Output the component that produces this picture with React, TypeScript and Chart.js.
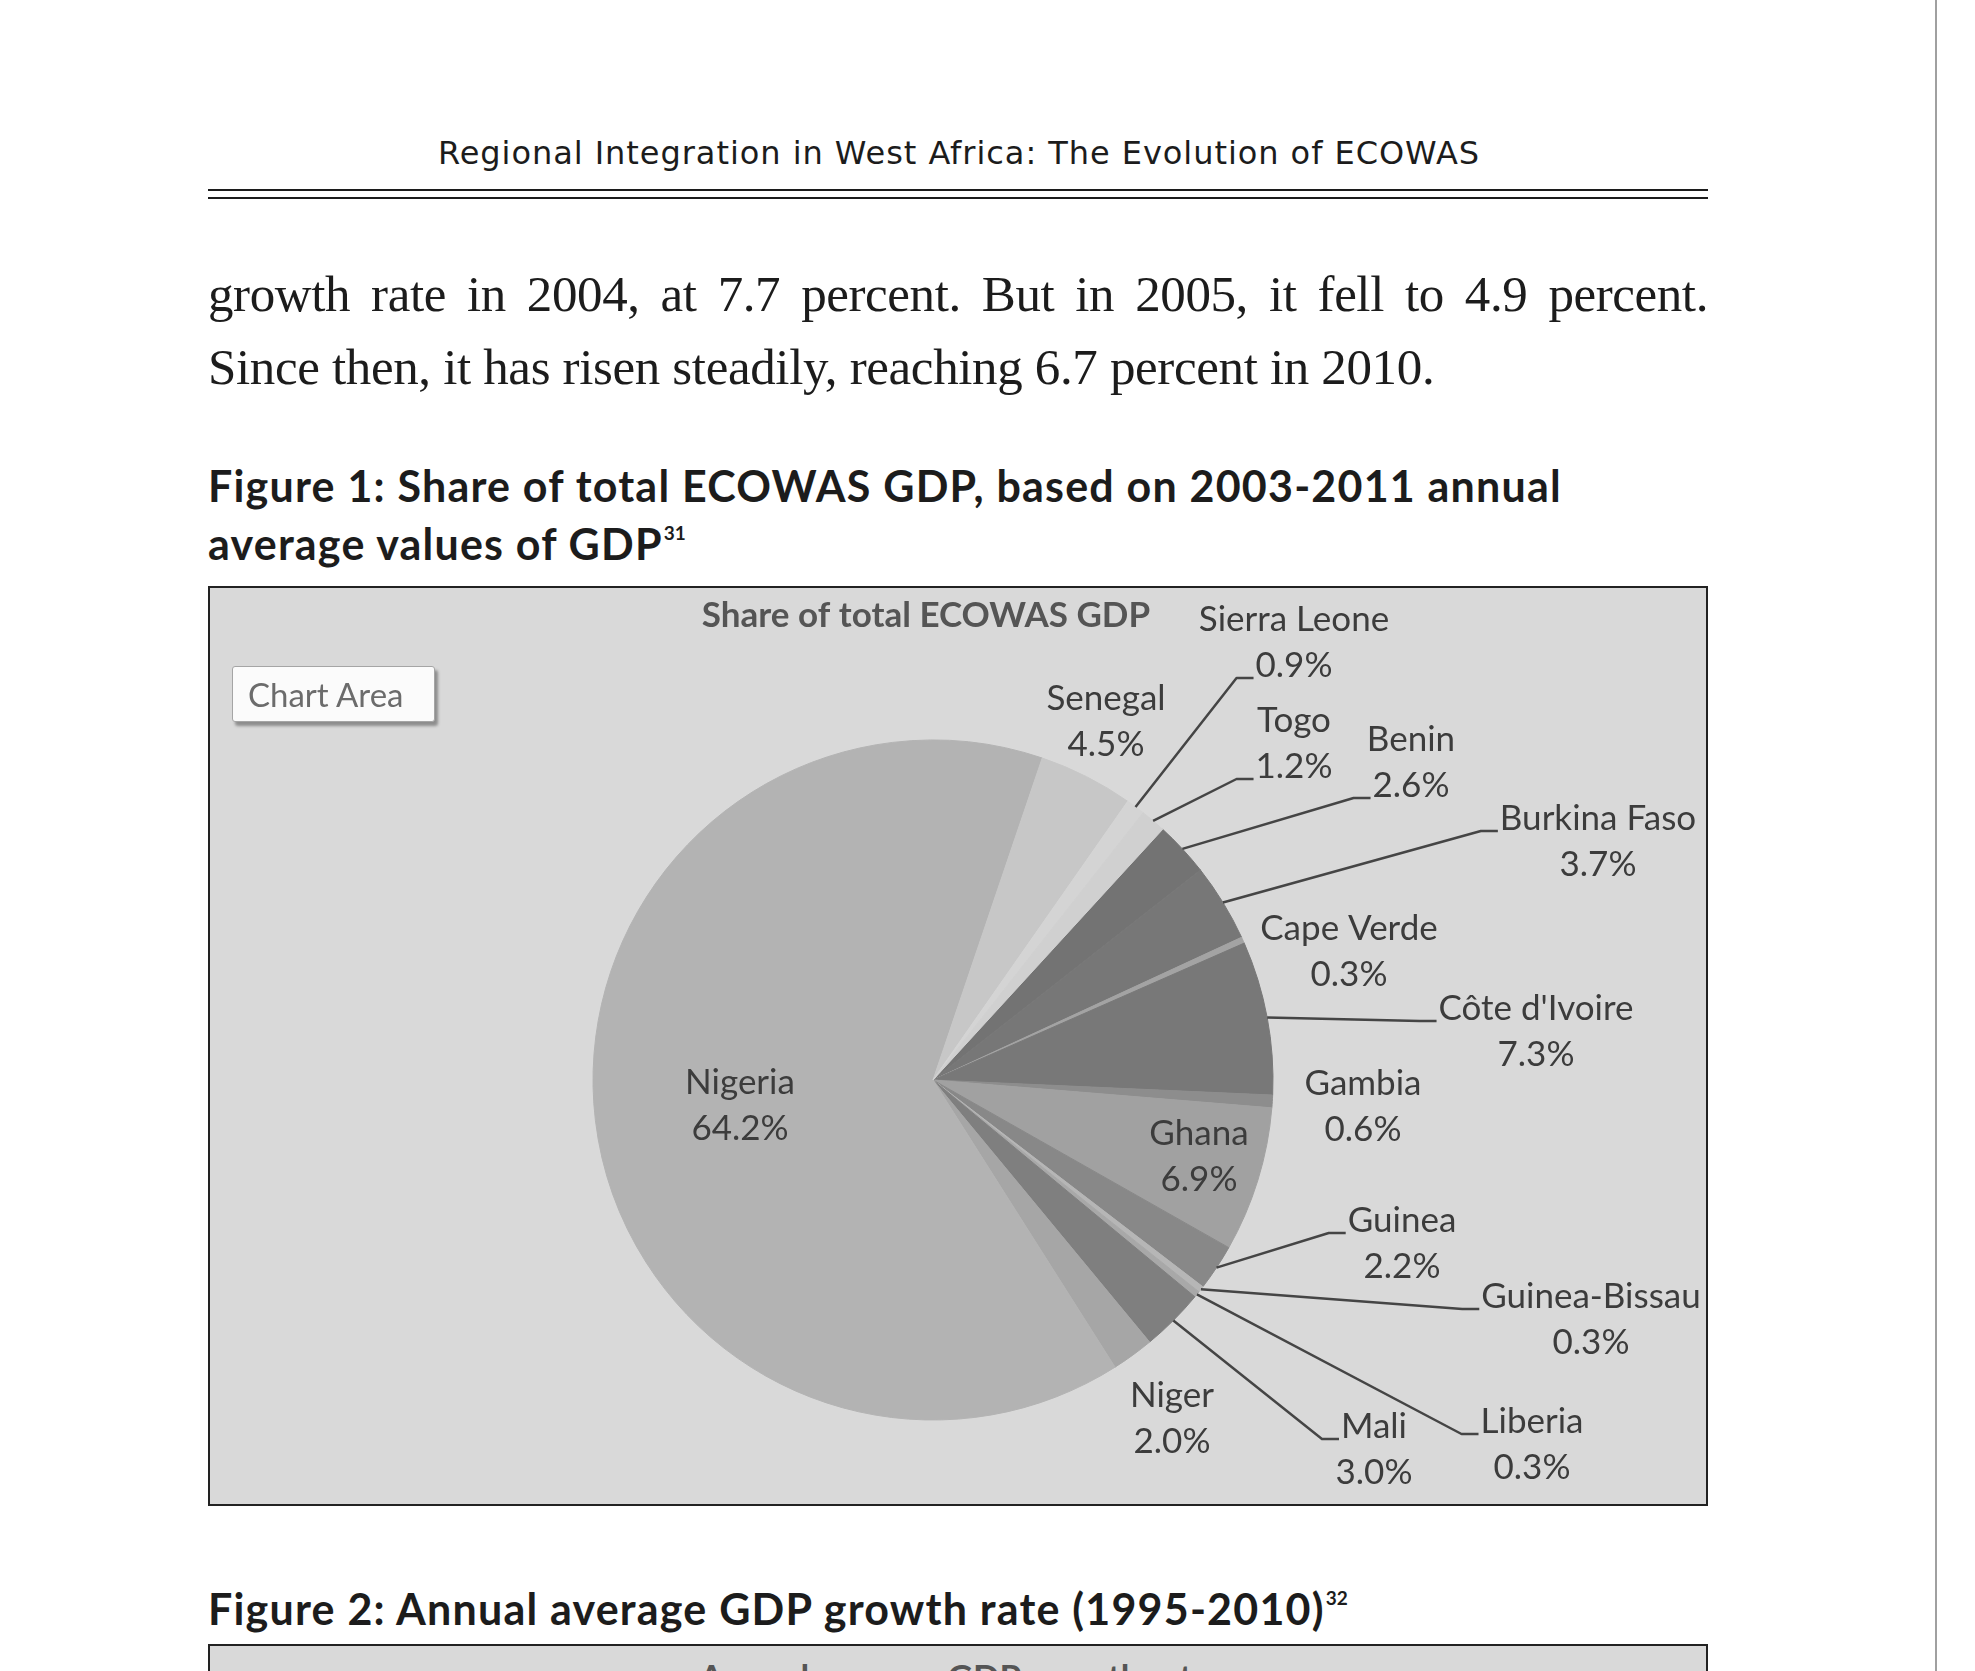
import { useEffect, useRef } from "react";
import { Chart, ArcElement, PieController } from "chart.js";

Chart.register(PieController, ArcElement);

// ECOWAS members, in the order Excel stacks them (alphabetical)
const countries = [
  "Benin",
  "Burkina Faso",
  "Cape Verde",
  "Côte d'Ivoire",
  "Gambia",
  "Ghana",
  "Guinea",
  "Guinea-Bissau",
  "Liberia",
  "Mali",
  "Niger",
  "Nigeria",
  "Senegal",
  "Sierra Leone",
  "Togo",
];

// share of total ECOWAS GDP, 2003-2011 annual average (%)
const gdpShare = [2.6, 3.7, 0.3, 7.3, 0.6, 6.9, 2.2, 0.3, 0.3, 3.0, 2.0, 64.2, 4.5, 0.9, 1.2];

const sliceGrays = [
  "#737373",
  "#777777",
  "#a3a3a3",
  "#787878",
  "#8d8d8d",
  "#a1a1a1",
  "#888888",
  "#b6b6b6",
  "#a8a8a8",
  "#7f7f7f",
  "#a6a6a6",
  "#b3b3b3",
  "#c7c7c7",
  "#d4d4d4",
  "#d0d0d0",
];

const chartTitle = "Share of total ECOWAS GDP";

// where each data label sits: offset of the name line's baseline centre from the
// pie centre (px), and which line (if any) the leader line hooks onto
const labelSpots: Record<string, [number, number, "name" | "value" | null]> = {
  Benin: [478, -329, "value"],
  "Burkina Faso": [665, -250, "name"],
  "Cape Verde": [416, -140, null],
  "Côte d'Ivoire": [603, -60, "name"],
  Gambia: [430, 15, null],
  Ghana: [266, 65, null],
  Guinea: [469, 152, "name"],
  "Guinea-Bissau": [658, 228, "name"],
  Liberia: [599, 353, "name"],
  Mali: [441, 358, "name"],
  Niger: [239, 327, null],
  Nigeria: [-193, 14, null],
  Senegal: [173, -370, null],
  "Sierra Leone": [361, -449, "value"],
  Togo: [361, -348, "value"],
};

const LABEL_FONT = "35px Lato";
const TITLE_FONT = "bold 35px Lato";
const LINE_GAP = 46;

const sliceLabels = {
  id: "sliceLabels",
  afterDatasetsDraw(chart: Chart) {
    const ctx = chart.ctx;
    const meta = chart.getDatasetMeta(0);
    if (!meta.data.length) return;
    ctx.save();
    ctx.textAlign = "center";
    ctx.textBaseline = "alphabetic";
    ctx.strokeStyle = "#454545";
    ctx.lineWidth = 2.5;
    ctx.lineJoin = "round";

    meta.data.forEach((el: any, i: number) => {
      const { x, y, startAngle, endAngle, outerRadius } = el.getProps(
        ["x", "y", "startAngle", "endAngle", "outerRadius"],
        true
      );
      const name = countries[i];
      const value = gdpShare[i].toFixed(1) + "%";
      const [dx, dy, hook] = labelSpots[name];
      const lx = x + dx;
      const ly = y + dy;

      ctx.font = LABEL_FONT;
      ctx.fillStyle = "#3c3c3c";
      ctx.fillText(name, lx, ly);
      ctx.fillText(value, lx, ly + LINE_GAP);

      if (hook) {
        const mid = (startAngle + endAngle) / 2;
        const ex = x + Math.cos(mid) * outerRadius;
        const ey = y + Math.sin(mid) * outerRadius;
        const txt = hook === "name" ? name : value;
        const by = (hook === "name" ? ly : ly + LINE_GAP) + 1;
        const left = lx - ctx.measureText(txt).width / 2 - 2;
        ctx.beginPath();
        ctx.moveTo(ex, ey);
        ctx.lineTo(left - 17, by);
        ctx.lineTo(left, by);
        ctx.stroke();
      }
    });

    const first: any = meta.data[0];
    ctx.font = TITLE_FONT;
    ctx.fillStyle = "#555555";
    ctx.fillText(chartTitle, first.x - 7, first.y - 453);
    ctx.restore();
  },
};

const SharePie: React.FC = () => {
  const canvasRef = useRef<HTMLCanvasElement>(null);
  const chartRef = useRef<Chart<"pie", number[], string> | null>(null);

  useEffect(() => {
    if (!canvasRef.current) return;
    if (chartRef.current) chartRef.current.destroy();

    chartRef.current = new Chart(canvasRef.current, {
      type: "pie",
      data: {
        labels: countries,
        datasets: [
          {
            data: gdpShare,
            backgroundColor: sliceGrays,
            borderColor: sliceGrays,
            borderWidth: 1,
            radius: 340,
          },
        ],
      },
      options: {
        responsive: true,
        maintainAspectRatio: false,
        animation: false,
        events: [],
        rotation: 42.5,
        layout: { padding: { top: 152, bottom: 84, left: 283, right: 333 } },
        plugins: {
          legend: { display: false },
          tooltip: { enabled: false },
        },
      },
      plugins: [sliceLabels],
    });

    return () => {
      if (chartRef.current) {
        chartRef.current.destroy();
        chartRef.current = null;
      }
    };
  }, []);

  return (
    <div style={{ position: "absolute", left: 0, top: 0, width: 1496, height: 916 }}>
      <canvas ref={canvasRef}></canvas>
    </div>
  );
};

const abs = (left: number, top: number, extra: React.CSSProperties = {}): React.CSSProperties => ({
  position: "absolute",
  left,
  top,
  whiteSpace: "nowrap",
  lineHeight: 1,
  ...extra,
});

const figTitle: React.CSSProperties = {
  fontFamily: "Lato",
  fontWeight: 700,
  fontSize: 43,
  letterSpacing: 1.2,
  color: "#1c1c1c",
};

const sup: React.CSSProperties = { fontSize: 19, position: "relative", top: -20, marginLeft: 1, letterSpacing: 0 };

export default function App() {
  return (
    <div
      style={{
        position: "absolute",
        left: 0,
        top: 0,
        width: 1975,
        height: 1671,
        overflow: "hidden",
        background: "#ffffff",
      }}
    >
      {/* running header */}
      <div
        style={abs(208, 137, {
          width: 1502,
          textAlign: "center",
          fontFamily: "DejaVu Sans",
          fontSize: 32,
          letterSpacing: 0.95,
          color: "#1c1c1c",
        })}
      >
        Regional Integration in West Africa: The Evolution of ECOWAS
      </div>
      <div style={abs(208, 189, { width: 1500, height: 2, background: "#1c1c1c" })} />
      <div style={abs(208, 197, { width: 1500, height: 2, background: "#1c1c1c" })} />

      {/* body text */}
      <div
        style={abs(208, 269, {
          width: 1500,
          fontFamily: "Liberation Serif",
          fontSize: 51,
          color: "#1c1c1c",
          textAlign: "justify",
          textAlignLast: "justify",
          whiteSpace: "normal",
          letterSpacing: -0.4,
        })}
      >
        growth rate in 2004, at 7.7 percent. But in 2005, it fell to 4.9 percent.
      </div>
      <div
        style={abs(208, 342, {
          fontFamily: "Liberation Serif",
          fontSize: 51,
          color: "#1c1c1c",
          letterSpacing: -0.35,
        })}
      >
        Since then, it has risen steadily, reaching 6.7 percent in 2010.
      </div>

      {/* figure 1 caption */}
      <div style={abs(208, 464, figTitle)}>
        Figure 1: Share of total ECOWAS GDP, based on 2003-2011 annual
      </div>
      <div style={abs(208, 522, figTitle)}>
        average values of GDP<span style={sup}>31</span>
      </div>

      {/* figure 1 chart box */}
      <div
        style={abs(208, 586, {
          width: 1500,
          height: 920,
          boxSizing: "border-box",
          border: "2px solid #222222",
          background: "#d9d9d9",
        })}
      >
        <SharePie />
        <div
          style={abs(22, 78, {
            width: 203,
            height: 56,
            boxSizing: "border-box",
            background: "#fbfbfb",
            border: "1px solid #a5a5a5",
            borderRadius: 3,
            boxShadow: "3px 4px 3px rgba(0,0,0,0.35)",
            fontFamily: "Lato",
            fontSize: 33,
            color: "#6c6c6c",
            paddingLeft: 15,
            paddingTop: 11,
          })}
        >
          Chart Area
        </div>
      </div>

      {/* figure 2 caption and the top of its box */}
      <div style={abs(208, 1587, figTitle)}>
        Figure 2: Annual average GDP growth rate (1995-2010)<span style={sup}>32</span>
      </div>
      <div
        style={abs(208, 1644, {
          width: 1500,
          height: 200,
          boxSizing: "border-box",
          border: "2px solid #222222",
          background: "#d9d9d9",
        })}
      >
        <div
          style={abs(0, 13, {
            width: 1490,
            textAlign: "center",
            fontFamily: "Lato",
            fontWeight: 700,
            fontSize: 35,
            color: "#555555",
          })}
        >
          Annual average GDP growth rate
        </div>
      </div>

      {/* page edge */}
      <div style={abs(1935, 0, { width: 2, height: 1671, background: "#a0a0a0" })} />
    </div>
  );
}
